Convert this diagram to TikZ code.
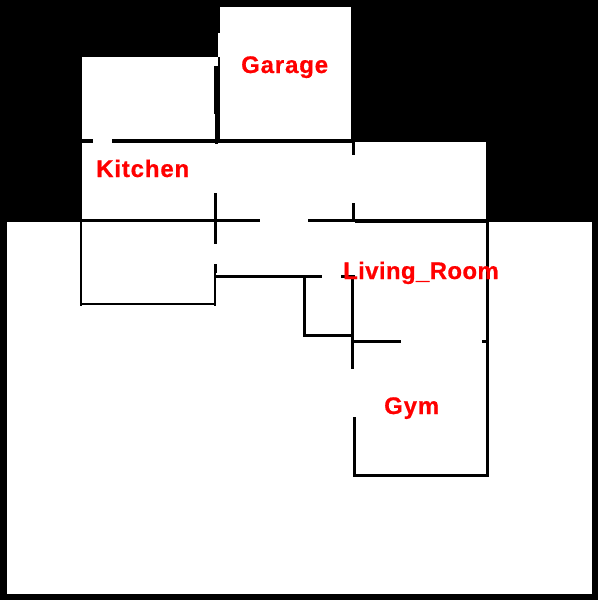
\documentclass[tikz,border=0pt]{standalone}
\usepackage{fontspec}
\setmainfont{Liberation Sans}
\newfontfamily\lblfont[LetterSpace=3.5,FakeBold=0.6]{Liberation Sans Bold}
\newfontfamily\lvgfont[LetterSpace=1.5,FakeBold=0.6]{Liberation Sans Bold}
\tikzset{
  room/.style={fill=white,draw=none},
  wall/.style={fill=black,draw=black,line width=0.5pt},
  lbl/.style={text=red,font=\lblfont\fontsize{24}{24}\selectfont,inner sep=0pt,anchor=base west}
}
\begin{document}
\begin{tikzpicture}[x=1pt,y=-1pt]
\useasboundingbox (0,0) rectangle (598,600);
\fill[black] (0,0) rectangle (598,600);
% white areas
\fill[room] (7,222) rectangle (592,594);
\fill[room] (220,7) rectangle (351,140);
\fill[room] (218,33) rectangle (221,57);
\fill[room] (82,57) rectangle (218,140);
\fill[room] (82,139) rectangle (352,223);
\fill[room] (352,142) rectangle (486,223);
% upper walls
\fill[wall] (214.3,66) rectangle (217.5,113);
\fill[wall] (215.6,113) rectangle (217.5,143);
\fill[wall] (82,139.3) rectangle (92,141.8);
\fill[wall] (112,139.3) rectangle (352,141.8);
\fill[wall] (352,142) rectangle (354.4,154);
\fill[wall] (352,203) rectangle (354.4,220);
\fill[wall] (214.4,193) rectangle (216.4,243);
% middle band
\fill[wall] (80.3,219.3) rectangle (259,221.7);
\fill[wall] (308.3,219.3) rectangle (355,221.7);
\fill[wall] (355,219.3) rectangle (487,222.3);
% lower-left room
\fill[wall] (80.3,222) rectangle (81.3,304.8);
\fill[wall] (80.3,303.6) rectangle (215.5,304.6);
\fill[wall] (214.4,264) rectangle (216.4,272);
\fill[wall] (214.4,272) rectangle (215.4,304.8);
% living room walls
\fill[wall] (216,275.3) rectangle (305,277.2);
\fill[wall] (303.3,274.8) rectangle (321,277.2);
\fill[wall] (341,274.8) rectangle (354.5,277.2);
\fill[wall] (303.4,275) rectangle (305.6,336.2);
\fill[wall] (303.4,334.3) rectangle (353,336.2);
\fill[wall] (351.3,275) rectangle (353.6,368);
\fill[wall] (353,340.3) rectangle (400,342.2);
\fill[wall] (482,340.3) rectangle (487,342.2);
\fill[wall] (486.2,222) rectangle (488.4,476.2);
\fill[wall] (352.8,417) rectangle (355,476.2);
\fill[wall] (352.8,474.3) rectangle (488.4,476.2);
% labels
\node[lbl] (garage) at (241,73) {Garage};
\node[lbl] (kitchen) at (96,177) {Kitchen};
\node[lbl,font=\lvgfont\fontsize{24}{24}\selectfont] (living) at (343,279) {Living\_Room};
\node[lbl] (gym) at (384,414) {Gym};
\end{tikzpicture}
\end{document}
